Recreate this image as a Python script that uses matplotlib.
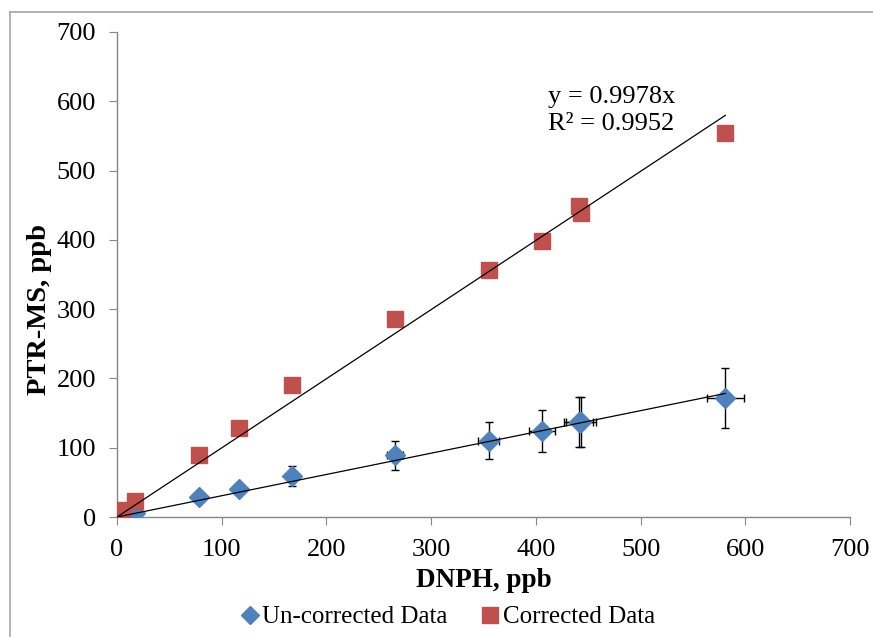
import matplotlib.pyplot as plt
from matplotlib.lines import Line2D
import numpy as np

plt.rcParams['font.family'] = ['Liberation Serif', 'DejaVu Serif']

# DNPH (x) values, ppb
dnph = [1, 3, 5, 17, 78, 116.5, 167, 265.5, 355, 406, 441, 443, 581]
# PTR-MS un-corrected, ppb
uncorr = [0.5, 1.5, 2, 6, 29, 40, 59, 89, 110, 124, 137, 137, 172]
# PTR-MS corrected, ppb
corr = [4, 7, 10, 23, 89.5, 128, 190, 286, 356, 398, 449, 439, 554]
# error bars on un-corrected data
x_err = [0, 0, 0, 0, 0, 3, 4, 8, 10, 12.4, 14, 14, 17.5]
y_err = [0, 0, 0, 0, 0, 7, 14.4, 21.4, 27, 30.5, 36, 36, 43]

slope_corr = 0.9978
slope_unc = 0.307
x_end = 581

fig = plt.figure(figsize=(8.73, 6.37), dpi=100)
ax = fig.add_axes([117 / 873, 120 / 637, 733 / 873, 485 / 637])

grey = '#868686'
blue = '#4f81bd'
red = '#c0504d'

# trendlines through the origin
xl = np.array([0, x_end])
ax.plot(xl, slope_corr * xl, color='black', lw=0.9, zorder=5)
ax.plot(xl, slope_unc * xl, color='black', lw=0.9, zorder=5)

ax.errorbar(dnph, uncorr, xerr=x_err, yerr=y_err, fmt='none', ecolor='black',
            elinewidth=1, capsize=3, capthick=1, zorder=2)
ax.plot(dnph, uncorr, 'D', color=blue, markersize=10, mec=blue, zorder=4)
ax.plot(dnph, corr, 's', color=red, markersize=11.5, mec=red, zorder=4)

ax.text(0.588, 0.889, 'y = 0.9978x\nR\u00b2 = 0.9952', transform=ax.transAxes,
        fontsize=19, va='top', ha='left', linespacing=1.32)

ax.set_xlim(0, 700)
ax.set_ylim(0, 700)
ax.set_xticks(range(0, 701, 100))
ax.set_yticks(range(0, 701, 100))
for s in ['top', 'right']:
    ax.spines[s].set_visible(False)
for s in ['left', 'bottom']:
    ax.spines[s].set_color(grey)
    ax.spines[s].set_linewidth(1)
ax.tick_params(direction='out', length=6, color=grey, labelsize=19)
ax.tick_params(axis='y', pad=9)
ax.tick_params(axis='x', pad=10)

ax.set_xlabel('DNPH, ppb', fontsize=19.5, fontweight='bold', labelpad=5)
ax.set_ylabel('PTR-MS, ppb', fontsize=20.5, fontweight='bold')
ax.yaxis.set_label_coords(-0.088, 0.427)

handles = [Line2D([], [], marker='D', ls='none', color=blue, markersize=9),
           Line2D([], [], marker='s', ls='none', color=red, markersize=11)]
fig.legend(handles, ['Un-corrected Data', 'Corrected Data'], loc='center',
           bbox_to_anchor=(446 / 873, 1 - 617 / 637), ncol=2, frameon=False,
           fontsize=18, handletextpad=0.0, columnspacing=1.2, handlelength=1.0)

# outer chart frame
fig.add_artist(Line2D([10 / 873, 10 / 873], [0, 1 - 12 / 637], color='#a6a6a6', lw=1.2,
                      transform=fig.transFigure))
fig.add_artist(Line2D([10 / 873, 1], [1 - 12 / 637, 1 - 12 / 637], color='#a6a6a6', lw=1.2,
                      transform=fig.transFigure))

fig.savefig('out.png', dpi=100)
